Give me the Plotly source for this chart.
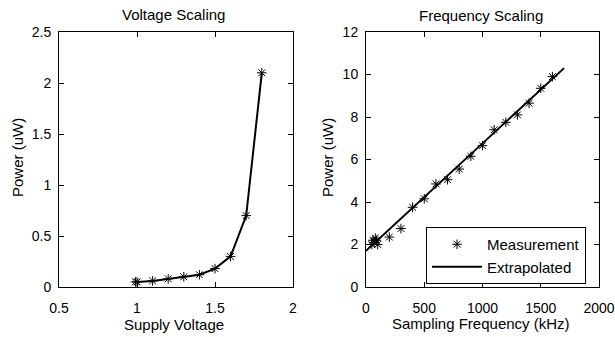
import plotly.graph_objects as go

# Voltage scaling data
volt_x = [0.99, 1.0, 1.1, 1.2, 1.3, 1.4, 1.5, 1.6, 1.7, 1.8]
volt_y = [0.05, 0.05, 0.06, 0.08, 0.10, 0.12, 0.18, 0.30, 0.70, 2.10]

# Frequency scaling data
meas_x = [50, 60, 70, 80, 90, 100, 200, 300, 400, 500, 600, 700, 800, 900,
          1000, 1100, 1200, 1300, 1400, 1500, 1600]
meas_y = [2.0, 2.2, 2.1, 2.3, 2.2, 2.0, 2.35, 2.75, 3.75, 4.15, 4.85, 5.05,
          5.55, 6.15, 6.65, 7.4, 7.75, 8.1, 8.65, 9.35, 9.9]
extrap_x = [0, 1700]
extrap_y = [1.7, 10.3]

W, H = 615, 337
FONT = "Liberation Sans, Arial, sans-serif"
TICK = 14
TXT = 15

fig = go.Figure()
fig.add_trace(go.Scatter(x=volt_x, y=volt_y, mode="lines+markers",
                         line=dict(color="black", width=2),
                         marker=dict(symbol="asterisk-open", size=8, color="black",
                                     line=dict(color="black", width=1)),
                         showlegend=False, xaxis="x", yaxis="y"))
fig.add_trace(go.Scatter(x=meas_x, y=meas_y, mode="markers", name="Measurement",
                         marker=dict(symbol="asterisk-open", size=8, color="black",
                                     line=dict(color="black", width=1)),
                         xaxis="x2", yaxis="y2"))
fig.add_trace(go.Scatter(x=extrap_x, y=extrap_y, mode="lines", name="Extrapolated",
                         line=dict(color="black", width=2),
                         xaxis="x2", yaxis="y2"))

ydom = [(H - 287) / H, (H - 32) / H]
axcommon = dict(showline=True, linecolor="black", linewidth=1, mirror="ticks",
                ticks="inside", ticklen=5, tickcolor="black", showgrid=False,
                zeroline=False, automargin=False,
                tickfont=dict(size=TICK, color="black", family=FONT))

def px(x):
    return x / W

def py(y):
    return (H - y) / H

fig.update_layout(
    width=W, height=H, margin=dict(l=0, r=0, t=0, b=0, autoexpand=False),
    paper_bgcolor="white", plot_bgcolor="white",
    font=dict(family=FONT, size=TXT, color="black"),
    xaxis=dict(domain=[px(59), px(293)], range=[0.5, 2], dtick=0.5, anchor="y",
               ticklabelstandoff=8, **axcommon),
    yaxis=dict(domain=ydom, range=[0, 2.5], dtick=0.5, anchor="x",
               ticklabelstandoff=4, **axcommon),
    xaxis2=dict(domain=[px(366), px(599)], range=[0, 2000], dtick=500, anchor="y2",
                ticklabelstandoff=8, **axcommon),
    yaxis2=dict(domain=ydom, range=[0, 12], dtick=2, anchor="x2",
                ticklabelstandoff=4, **axcommon),
    legend=dict(x=px(586), xanchor="right", y=py(227), yanchor="top",
                bordercolor="black", borderwidth=1, bgcolor="white",
                font=dict(size=TXT, color="black", family=FONT),
                itemwidth=50, tracegroupgap=0),
    annotations=[
        dict(text="Voltage Scaling", x=px(174), y=py(15), xref="paper", yref="paper",
             showarrow=False, xanchor="center", yanchor="middle"),
        dict(text="Frequency Scaling", x=px(481), y=py(16), xref="paper", yref="paper",
             showarrow=False, xanchor="center", yanchor="middle"),
        dict(text="Supply Voltage", x=px(174), y=py(324), xref="paper", yref="paper",
             showarrow=False, xanchor="center", yanchor="middle"),
        dict(text="Sampling Frequency (kHz)", x=px(481), y=py(323), xref="paper", yref="paper",
             showarrow=False, xanchor="center", yanchor="middle"),
        dict(text="Power (uW)", x=px(17), y=py(158), xref="paper", yref="paper",
             showarrow=False, xanchor="center", yanchor="middle", textangle=-90),
        dict(text="Power (uW)", x=px(327), y=py(158), xref="paper", yref="paper",
             showarrow=False, xanchor="center", yanchor="middle", textangle=-90),
    ],
)

fig.write_html("out.html")
